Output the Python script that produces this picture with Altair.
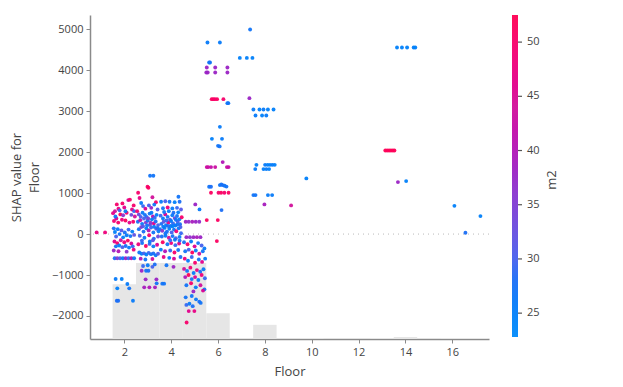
import altair as alt
import pandas as pd

# ---------------- histogram of Floor (background) ----------------
hist_floor = [2, 3, 4, 5, 6, 7, 8, 10, 13, 14, 16, 17]
hist_count = [108, 150, 150, 150, 51, 2, 28, 2, 2, 4, 2, 2]

# ---------------- SHAP dependence points: (floor jittered, shap value, m2) ----------------
f1_x = [0.82, 1.18]
f1_y = [41, 41]
f1_c = [47, 48]

f2_x = [1.52, 1.60, 1.68, 1.75, 1.83, 1.92, 2.00, 2.10, 2.17, 2.24, 2.33, 2.40, 2.45, 1.56, 1.66, 1.74, 1.90, 2.05, 2.22, 2.38,
        1.62, 1.80, 2.05, 2.30, 2.42, 1.95,
        1.55, 1.60, 1.65, 1.72, 1.80, 1.88, 1.95, 2.02, 2.10, 2.18, 2.26, 2.34, 2.42,
        1.58, 1.70, 1.85, 2.00, 2.15, 2.30, 1.64, 1.78, 1.92, 2.06, 2.20, 2.36, 1.55, 1.75, 2.10, 2.40,
        1.59, 1.70, 1.82, 1.94, 2.06, 2.18, 2.30, 2.42,
        1.63, 1.89, 2.13, 1.70, 2.21, 1.68, 1.74, 2.37]
f2_y = [510, 560, 725, 620, 480, 749, 650, 520, 830, 840, 600, 700, 430, 320, 380, 280, 350, 330, 280, 300,
        430, 580, 560, 470, 560, 460,
        140, 50, -60, 120, 0, 90, -80, 40, -30, 110, -50, 60, -20,
        -180, -220, -150, -200, -160, -230, -300, -280, -320, -290, -330, -300, -400, -420, -430, -380,
        -590, -590, -590, -590, -590, -590, -590, -590,
        -1098, -1098, -1220, -1325, -1325, -1627, -1627, -1627]
f2_c = [47, 44, 50, 48, 51, 50, 46, 49, 45, 50, 47, 50, 44, 49, 45, 50, 48, 51, 46, 50,
        27, 30, 26, 33, 29, 36,
        28, 25, 30, 26, 27, 31, 25, 28, 26, 29, 27, 25, 32,
        46, 50, 44, 48, 51, 45, 27, 25, 30, 28, 26, 29, 38, 40, 36, 48,
        28, 35, 30, 26, 38, 29, 41, 27,
        26, 25, 26, 25, 27, 28, 28, 26]

f3_x = [3.10, 3.24, 2.99, 3.03, 2.59, 2.80, 2.65, 3.20, 3.35, 2.72, 2.90, 3.05, 3.15, 3.28, 3.42, 2.55, 2.62, 2.78, 2.95, 3.08, 3.22, 3.38,
        2.58, 2.68, 2.76, 2.84, 2.92, 3.00, 3.10, 3.18, 3.26, 3.34, 3.44,
        2.62, 2.72, 2.82, 2.94, 3.04, 3.14, 3.24, 3.36, 3.46, 2.66, 2.86, 3.06, 3.26, 3.44,
        2.60, 2.76, 2.92, 3.08, 3.24, 3.40, 2.64, 2.74, 2.84, 2.94, 3.04, 3.14, 3.24, 3.34, 3.44,
        2.70, 2.90, 3.20, 2.74, 2.93, 3.03, 2.80, 3.00, 3.20, 3.30, 2.91, 3.37, 2.85, 3.07, 3.31, 3.38,
        2.70, 2.88, 3.02, 3.16, 3.30, 2.80, 2.97, 3.12, 3.27, 3.41, 2.75, 3.09, 3.22]
f3_y = [1423, 1423, 1155, 1130, 1008, 683, 880, 900, 780, 760, 620, 700, 640, 720, 600, 560, 480, 520, 420, 500, 430, 470,
        300, 340, 250, 380, 280, 330, 230, 360, 260, 310, 220,
        120, 170, 60, 140, 90, 160, 40, 130, 70, -40, -90, -30, -110, -60,
        -250, -220, -290, -240, -300, -260, -450, -480, -470, -500, -460, -490, -470, -520, -480,
        -600, -620, -610, -895, -895, -895, -780, -760, -800, -740, -1105, -1105, -1300, -1300, -1300, -1203,
        420, 470, 380, 520, 400, 190, 210, 280, 180, 150, -160, -180, -150]
f3_c = [27, 27, 50, 51, 50, 29, 47, 44, 50, 26, 45, 30, 38, 27, 31, 49, 33, 26, 29, 27, 41, 25,
        28, 42, 26, 30, 35, 27, 33, 25, 46, 28, 30,
        27, 36, 28, 25, 40, 29, 27, 32, 26, 30, 26, 49, 28, 33,
        48, 27, 51, 29, 26, 45, 27, 26, 30, 25, 29, 27, 28, 26, 31,
        40, 27, 44, 38, 27, 28, 29, 26, 30, 28, 38, 38, 39, 40, 39, 27,
        30, 27, 34, 26, 29, 31, 27, 36, 26, 28, 29, 26, 31]

f4_x = [4.31, 3.57, 3.75, 3.93, 4.15, 4.36, 3.65, 3.85, 4.05, 4.25, 4.42,
        3.55, 3.65, 3.75, 3.85, 3.95, 4.05, 4.15, 4.25, 4.35, 4.45,
        3.58, 3.68, 3.78, 3.88, 3.98, 4.08, 4.18, 4.28, 4.38,
        3.52, 3.62, 3.72, 3.82, 3.92, 4.02, 4.12, 4.22, 4.32, 4.42,
        3.60, 3.76, 3.90, 4.06, 4.20, 4.36, 3.64, 3.84, 4.00, 4.18, 4.34,
        3.56, 3.74, 3.96, 4.14, 4.30, 3.68, 3.92, 4.12, 4.40, 3.80, 4.10, 3.62, 3.70,
        3.70, 3.90, 4.10, 4.30, 3.80, 4.00, 4.20, 4.40, 3.66, 3.86, 4.06, 4.26, 3.96, 4.16, 4.36, 3.76]
f4_y = [910, 790, 800, 790, 780, 790, 630, 650, 627, 640, 600,
        450, 380, 480, 420, 350, 460, 390, 440, 360, 410,
        250, 300, 220, 280, 200, 260, 210, 300, 240,
        120, 80, 150, 60, 130, 40, 110, 70, 140, 20,
        -60, -40, -90, -50, -100, -70, -200, -250, -220, -270, -230,
        -380, -420, -400, -450, -390, -560, -580, -600, -560, -760, -800, -1210, -1210,
        540, 560, 520, 530, 330, 320, 350, 170, 180, 200, 190, 230, -150, -140, -160, 20]
f4_c = [27, 26, 30, 27, 25, 28, 27, 48, 26, 29, 31,
        29, 26, 45, 27, 30, 26, 33, 27, 25, 50,
        28, 31, 26, 47, 27, 29, 26, 30, 28,
        27, 36, 26, 28, 25, 30, 27, 49, 26, 29,
        28, 26, 44, 27, 31, 26, 51, 27, 48, 29, 46,
        26, 40, 29, 50, 27, 47, 26, 45, 28, 27, 38, 27, 27,
        27, 26, 28, 25, 29, 26, 27, 30, 26, 28, 25, 27, 29, 26, 28, 27]

f5_x = [5.03, 5.21, 4.62, 4.75, 4.90, 5.05, 5.20, 4.65, 4.80, 4.95, 5.10, 5.25,
        4.55, 4.70, 4.85, 5.00, 5.15, 5.30, 5.42, 4.60, 4.75, 4.90, 5.05, 5.20, 5.35,
        4.58, 4.72, 4.88, 5.02, 5.18, 5.32, 5.45, 4.55, 4.68, 4.82, 4.96, 5.10, 5.24, 5.38,
        4.60, 4.74, 4.88, 5.02, 5.16, 5.30, 5.44, 4.65, 4.85, 5.05, 5.25, 5.42, 4.95, 5.36,
        4.88, 5.06, 5.20, 5.26, 4.65, 4.78, 4.92, 4.75, 4.99, 4.66, 4.62]
f5_y = [724, 602, 300, 300, 300, 300, 300, -75, -75, -75, -75, -75,
        -200, -250, -180, -300, -220, -280, -350, -420, -380, -450, -400, -480, -420,
        -600, -650, -560, -700, -620, -680, -600, -850, -900, -820, -950, -880, -920, -860,
        -1050, -1000, -1100, -1050, -1120, -1000, -1080, -1250, -1200, -1300, -1250, -1350, -1400, -1380,
        -1513, -1593, -1650, -1680, -1730, -1700, -1760, -1880, -1880, -2160, -1545]
f5_c = [38, 26, 38, 37, 39, 38, 37, 38, 37, 38, 39, 38,
        28, 50, 26, 45, 27, 30, 26, 27, 30, 51, 26, 44, 27,
        48, 26, 29, 50, 27, 46, 26, 44, 27, 49, 26, 47, 28, 26,
        40, 52, 27, 45, 26, 48, 29, 27, 50, 26, 44, 27, 38, 45,
        27, 26, 28, 27, 29, 26, 28, 46, 47, 50, 27]

f6_x = [5.55, 6.08, 5.62, 5.66, 5.52, 5.88, 6.40, 5.50, 5.56, 5.88, 6.40,
        5.73, 5.80, 5.87, 5.96, 6.23, 6.40, 6.44, 6.08, 5.74, 6.17, 6.00, 6.07,
        6.20, 5.52, 5.58, 5.70, 5.88, 6.38, 6.45,
        5.62, 5.70, 6.08, 6.14, 6.20, 6.28, 6.36,
        5.70, 6.02, 6.13, 6.27, 6.45, 6.15, 5.52, 5.99, 5.95]
f6_y = [4677, 4677, 4190, 4190, 4067, 4067, 4067, 3945, 3945, 3945, 3945,
        3294, 3294, 3294, 3294, 3294, 3196, 3196, 2618, 2325, 2325, 2155, 2140,
        1757, 1635, 1635, 1635, 1635, 1635, 1635,
        1155, 1155, 1196, 1210, 1196, 1180, 1160,
        1008, 1008, 1008, 1008, 1008, 586, 342, 342, -171]
f6_c = [26, 26, 27, 27, 38, 38, 38, 38, 38, 38, 38,
        51, 51, 50, 51, 50, 27, 27, 26, 25, 26, 27, 27,
        40, 43, 43, 42, 43, 43, 42,
        27, 28, 27, 27, 28, 27, 27,
        51, 50, 51, 50, 51, 28, 51, 51, 51]

f8_x = [7.37, 6.93, 7.23, 7.47, 7.34,
        7.51, 7.77, 7.94, 8.13, 8.37, 7.60, 7.88, 8.06,
        7.64, 8.01, 8.12, 8.22, 8.32, 8.42, 7.59, 7.94, 8.06, 8.18,
        7.51, 7.60, 8.13, 8.31, 7.98, 9.12, 9.77]
f8_y = [4994, 4302, 4302, 4302, 3318,
        3042, 3042, 3042, 3042, 3042, 2896, 2896, 2896,
        1691, 1691, 1691, 1691, 1691, 1691, 1586, 1586, 1586, 1586,
        951, 951, 951, 951, 725, 700, 1359]
f8_c = [27, 25, 25, 25, 38,
        26, 25, 26, 25, 25, 26, 25, 26,
        25, 26, 25, 25, 26, 25, 26, 25, 26, 25,
        27, 27, 26, 26, 39, 44, 25]

f14_x = [13.64, 13.85, 14.07, 14.35, 14.42,
         13.14, 13.22, 13.30, 13.38, 13.46, 13.53,
         13.68, 14.03, 16.09, 16.56, 17.20]
f14_y = [4555, 4555, 4555, 4555, 4555,
         2042, 2042, 2042, 2042, 2042, 2042,
         1269, 1293, 690, 32, 439]
f14_c = [25, 25, 25, 25, 25,
         52, 52, 52, 52, 52, 52,
         38, 25, 25, 28, 25]

colorbar_title = ["m2"]
colorbar_ticks = [25, 30, 35, 40, 45, 50]
x_ticks = [2, 4, 6, 8, 10, 12, 14, 16]
y_ticks = [-2000, -1000, 0, 1000, 2000, 3000, 4000, 5000]

# ---------------- assemble ----------------
xs = f1_x + f2_x + f3_x + f4_x + f5_x + f6_x + f8_x + f14_x
ys = f1_y + f2_y + f3_y + f4_y + f5_y + f6_y + f8_y + f14_y
cs = f1_c + f2_c + f3_c + f4_c + f5_c + f6_c + f8_c + f14_c
pts = pd.DataFrame({"Floor": xs, "shap": ys, "m2": cs})

hist = pd.DataFrame({
    "lo": [f - 0.5 for f in hist_floor],
    "hi": [f + 0.5 for f in hist_floor],
    "count": hist_count,
})

FONT = "Open Sans"
x_scale = alt.Scale(domain=[0.536, 17.566], nice=False, zero=False)
y_scale = alt.Scale(domain=[-2562, 5349], nice=False, zero=False)
x_axis = alt.Axis(title="Floor", values=x_ticks, format="d", grid=False)

bars = alt.Chart(hist).mark_rect(color="#e6e6e6").encode(
    x=alt.X("lo:Q", scale=x_scale, axis=x_axis),
    x2="hi:Q",
    y=alt.Y("count:Q", scale=alt.Scale(domain=[0, 640], nice=False), axis=None),
    y2=alt.datum(0),
)

zero = alt.Chart(pd.DataFrame({"v": [0]})).mark_rule(
    color="#bbbbbb", strokeDash=[1, 4], strokeWidth=1
).encode(y=alt.Y("v:Q", scale=y_scale, axis=None))

points = alt.Chart(pts).mark_circle(size=15, opacity=0.95).encode(
    x=alt.X("Floor:Q", scale=x_scale, axis=x_axis),
    y=alt.Y("shap:Q", scale=y_scale,
            axis=alt.Axis(title=["SHAP value for", "Floor"], values=y_ticks,
                          format="d", grid=False)),
    color=alt.Color("m2:Q",
                    scale=alt.Scale(domain=[22.8, 28, 33, 38, 44, 52.5],
                                    range=["#008bfb", "#1a6ef6", "#6a48dc", "#9a22c4", "#d1109a", "#ff0052"]),
                    legend=alt.Legend(title=None, values=colorbar_ticks, format="d",
                                      orient="none", legendX=422, legendY=0, direction="vertical",
                                      gradientLength=322, gradientThickness=6,
                                      labelOffset=9)),
)

cb_ticks = alt.Chart(pd.DataFrame({"v": colorbar_ticks})).mark_rule(
    color="#555555", strokeWidth=1.2
).encode(
    y=alt.Y("v:Q", scale=alt.Scale(domain=[22.8, 52.5], range=[322, 0], nice=False, zero=False), axis=None),
    x=alt.value(428), x2=alt.value(432),
)

cb_title = alt.Chart(pd.DataFrame({"t": colorbar_title})).mark_text(
    angle=270, font=FONT, fontSize=13, color="#444444", align="center", baseline="middle"
).encode(text="t:N", x=alt.value(462), y=alt.value(165))

chart = alt.layer(bars, zero, points, cb_ticks, cb_title).resolve_scale(y="independent").properties(
    width=399, height=324,
    autosize=alt.AutoSizeParams(type="none"),
    padding={"left": 82, "top": 7, "right": 124, "bottom": 40},
).configure_view(stroke=None).configure_axis(
    labelFont=FONT, titleFont=FONT, labelFontSize=11, titleFontSize=13,
    labelColor="#444444", titleColor="#444444", titleFontWeight="normal",
    domainColor="#8a8a8a", domainWidth=1.5, tickColor="#8a8a8a", tickSize=4,
    labelPadding=3,
).configure_axisY(titlePadding=10, titleLineHeight=18).configure_axisX(titlePadding=8).configure_legend(
    labelFont=FONT, titleFont=FONT, labelFontSize=11, titleFontSize=13,
    labelColor="#444444", titleColor="#444444", titleFontWeight="normal",
    gradientStrokeWidth=0,
)

chart.save("out.html", embed_options={"renderer": "svg", "actions": False})
